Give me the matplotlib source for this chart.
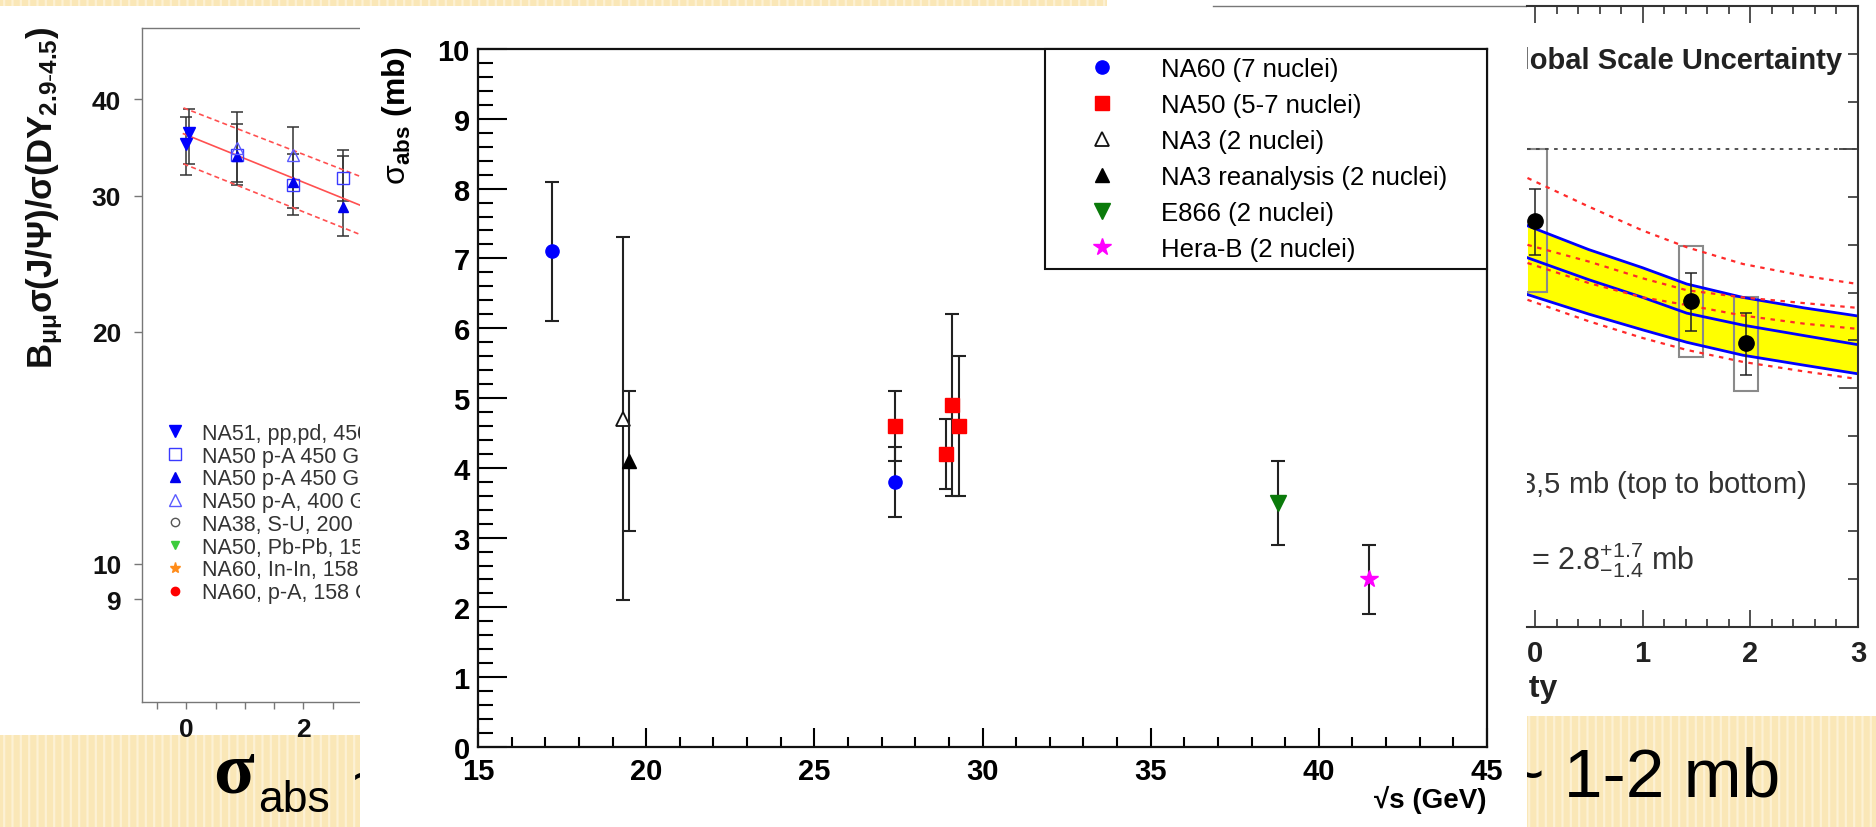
import matplotlib

matplotlib.use("Agg")
import matplotlib.pyplot as plt
from matplotlib.patches import Rectangle
from matplotlib.lines import Line2D
from matplotlib.ticker import MultipleLocator, NullLocator

plt.rcParams["font.family"] = ["Liberation Sans", "DejaVu Sans"]
plt.rcParams["mathtext.fontset"] = "custom"
plt.rcParams["mathtext.rm"] = "Liberation Sans"
plt.rcParams["mathtext.bf"] = "Liberation Sans:bold"
plt.rcParams["mathtext.it"] = "Liberation Sans:italic"
plt.rcParams["hatch.linewidth"] = 1.6

# ---- main panel: sigma_abs vs sqrt(s) ----
na60_x, na60_y, na60_err = [17.2, 27.4], [7.1, 3.8], [1.0, 0.5]
na50_x, na50_y, na50_err = [27.4, 28.9, 29.1, 29.3], [4.6, 4.2, 4.9, 4.6], [0.5, 0.5, 1.3, 1.0]
na3_x, na3_y, na3_err = [19.3], [4.7], [2.6]
na3r_x, na3r_y, na3r_err = [19.5], [4.1], [1.0]
e866_x, e866_y, e866_err = [38.8], [3.5], [0.6]
herab_x, herab_y, herab_err = [41.5], [2.4], [0.5]
main_labels = ["NA60 (7 nuclei)", "NA50 (5-7 nuclei)", "NA3 (2 nuclei)",
               "NA3 reanalysis (2 nuclei)", "E866 (2 nuclei)", "Hera-B (2 nuclei)"]
main_xticks = [15, 20, 25, 30, 35, 40, 45]
main_yticks = list(range(0, 11))

# ---- left panel: B sigma(J/psi)/sigma(DY) ----
l_na51_x, l_na51_y = [0.0, 0.05], [35.0, 36.2]
l_na51_lo, l_na51_hi = [31.9, 33.0], [38.0, 38.9]
l_sq_x, l_sq_y = [0.86, 1.83, 2.68], [33.9, 31.0, 31.6]
l_sq_lo, l_sq_hi = [31.0, 28.3, 29.5], [38.5, 34.0, 33.8]
l_tri_x, l_tri_y = [0.86, 1.83, 2.68], [33.8, 31.3, 29.0]
l_tri_lo, l_tri_hi = [31.3, 28.9, 26.6], [37.2, 36.8, 34.4]
l_otri_x, l_otri_y = [0.86, 1.83], [34.6, 33.9]
fit_x = [-0.05, 3.2]
fit_c, fit_hi, fit_lo = [36.1, 28.7], [39.0, 31.3], [33.0, 26.3]
left_labels = ["NA51, pp,pd, 450 GeV", "NA50 p-A 450 GeV (LI)", "NA50 p-A 450 GeV (HI)",
               "NA50 p-A, 400 GeV", "NA38, S-U, 200 GeV", "NA50, Pb-Pb, 158 GeV",
               "NA60, In-In, 158 GeV", "NA60, p-A, 158 GeV"]
left_yticks = [9, 10, 20, 30, 40]
left_xticks = [0, 2]

# ---- right panel: ratio vs rapidity ----
rap_x = [-0.07, 0.5, 1.0, 1.41, 1.93, 2.5, 3.0]
blue_hi = [0.84, 0.79, 0.752, 0.718, 0.69, 0.668, 0.651]
blue_mid = [0.773, 0.727, 0.69, 0.657, 0.632, 0.61, 0.591]
blue_lo = [0.696, 0.655, 0.622, 0.596, 0.569, 0.548, 0.53]
red_1 = [0.94, 0.88, 0.83, 0.795, 0.76, 0.735, 0.718]
red_2 = [0.80, 0.765, 0.73, 0.705, 0.69, 0.678, 0.668]
red_3 = [0.762, 0.72, 0.69, 0.674, 0.652, 0.635, 0.624]
red_4 = [0.685, 0.64, 0.605, 0.58, 0.555, 0.535, 0.519]
pt_x, pt_y = [0.0, 1.45, 1.96], [0.85, 0.682, 0.594]
pt_lo, pt_hi = [0.779, 0.62, 0.528], [0.917, 0.742, 0.657]
sys_lo, sys_hi = [0.701, 0.565, 0.494], [1.0, 0.797, 0.69]
rap_xticks = [0, 1, 2, 3]

BEIGE, STRIPE = "#fae7b7", "#fdf1d4"
W, H = 1876, 828
fig = plt.figure(figsize=(W / 100, H / 100), dpi=100)


def box(l, t, r, b):
    return [l / W, 1 - b / H, (r - l) / W, (b - t) / H]


def frect(l, t, r, b, z):
    fig.add_artist(Rectangle((l / W, 1 - b / H), (r - l) / W, (b - t) / H,
                             transform=fig.transFigure, facecolor="white",
                             edgecolor="none", zorder=z))


# slide background + title fragments
bg = fig.add_axes([0, 0, 1, 1], zorder=0)
bg.set_xlim(0, W)
bg.set_ylim(H, 0)
bg.axis("off")
bg.add_patch(Rectangle((0, 0), W, H, facecolor=BEIGE, edgecolor=STRIPE, hatch="||", lw=0))
bg.add_patch(Rectangle((0, 7), 360, 729, facecolor="white", lw=0))
bg.add_patch(Rectangle((1107, 0), 420, 7, facecolor="white", lw=0))
bg.text(213, 793, "σ", family="Liberation Serif", fontweight="bold", fontsize=54, va="baseline")
bg.text(258, 812, "abs", fontsize=32, va="baseline")
bg.text(352, 800, "~ 4.5 mb", fontsize=50, va="baseline")
bg.text(1504, 797, "~ 1-2 mb", fontsize=50, va="baseline")

# ---------------- left panel ----------------
axL = fig.add_axes(box(142, 29, 391, 703), zorder=1)
axL.set_yscale("log")
axL.set_xlim(-0.76, 3.5)
axL.set_ylim(6.62, 49.5)
for s in axL.spines.values():
    s.set_color("#777777")
    s.set_linewidth(1.0)
ekw = dict(fmt="none", ecolor="#333333", elinewidth=1.1, capsize=4, capthick=1.1)
axL.errorbar(l_na51_x, l_na51_y, yerr=[[y - l for y, l in zip(l_na51_y, l_na51_lo)],
                                       [h - y for y, h in zip(l_na51_y, l_na51_hi)]], **ekw)
axL.errorbar(l_sq_x, l_sq_y, yerr=[[y - l for y, l in zip(l_sq_y, l_sq_lo)],
                                   [h - y for y, h in zip(l_sq_y, l_sq_hi)]], **ekw)
axL.errorbar(l_tri_x, l_tri_y, yerr=[[y - l for y, l in zip(l_tri_y, l_tri_lo)],
                                     [h - y for y, h in zip(l_tri_y, l_tri_hi)]], **ekw)
axL.plot(fit_x, fit_c, color="#ff5050", lw=1.2)
axL.plot(fit_x, fit_hi, color="#ff5050", lw=1.2, ls=(0, (3, 2)))
axL.plot(fit_x, fit_lo, color="#ff5050", lw=1.2, ls=(0, (3, 2)))
h1, = axL.plot(l_na51_x, l_na51_y, "v", color="#0000ff", ms=8, ls="none")
h2, = axL.plot(l_sq_x, l_sq_y, "s", mfc="none", mec="#3a3aff", ms=8, ls="none")
h3, = axL.plot(l_tri_x, l_tri_y, "^", color="#0000ee", ms=7, ls="none")
h4, = axL.plot(l_otri_x, l_otri_y, "^", mfc="none", mec="#5a5aff", ms=9, ls="none")
h5 = Line2D([], [], marker="o", mfc="none", mec="#555555", ms=6, ls="none")
h6 = Line2D([], [], marker="v", color="#3ccc3c", ms=6, ls="none")
h7 = Line2D([], [], marker="*", color="#ff8c1a", ms=8, ls="none")
h8 = Line2D([], [], marker="o", color="#ff0000", ms=6, ls="none")
legL = axL.legend([h1, h2, h3, h4, h5, h6, h7, h8], left_labels, loc="upper left",
                  bbox_to_anchor=((165 - 142) / 249, (703 - 424) / 674), frameon=False,
                  fontsize=15.5, borderpad=0, borderaxespad=0, labelspacing=0.08,
                  handlelength=0.9, handletextpad=0.8, labelcolor="#333333")
axL.set_yticks(left_yticks, labels=[str(v) for v in left_yticks], fontsize=19, fontweight="bold")
axL.yaxis.set_minor_locator(NullLocator())
axL.set_xticks(left_xticks, labels=[str(v) for v in left_xticks], fontsize=19, fontweight="bold")
axL.xaxis.set_minor_locator(MultipleLocator(0.5))
axL.tick_params(axis="y", direction="out", length=6, width=1, color="#777777", pad=9, labelcolor="#111111")
axL.tick_params(axis="x", which="both", direction="out", length=5, width=1, color="#777777", pad=6, labelcolor="#111111")
axL.text(-0.39, 1.004, r"B$_{\mathbf{\mu\mu}}$σ(J/Ψ)/σ(DY$_{\mathbf{2.9\text{-}4.5}}$)",
         transform=axL.transAxes, rotation=90, ha="center", va="top",
         fontsize=25, fontweight="bold", color="#111111")

# ---------------- main panel ----------------
frect(360, 7, 1527, 828, 2)
fig.add_artist(Line2D([1213 / W, 1527 / W], [1 - 7 / H, 1 - 7 / H], transform=fig.transFigure,
                      color="#777777", lw=1.0, zorder=2.5))
axM = fig.add_axes(box(478, 50, 1487, 748), zorder=3)
axM.set_facecolor("none")
axM.set_xlim(15, 45)
axM.set_ylim(0, 10)
for s in axM.spines.values():
    s.set_linewidth(1.6)
    s.set_color("#111111")
mek = dict(fmt="none", ecolor="#222222", elinewidth=1.5, capsize=5, capthick=1.5)
series = [
    (na60_x, na60_y, na60_err, dict(marker="o", color="#0000ff", ms=9.5)),
    (na50_x, na50_y, na50_err, dict(marker="s", color="#ff0000", ms=10)),
    (na3_x, na3_y, na3_err, dict(marker="^", mfc="white", mec="#111111", mew=1.3, ms=10)),
    (na3r_x, na3r_y, na3r_err, dict(marker="^", color="#000000", ms=10)),
    (e866_x, e866_y, e866_err, dict(marker="v", color="#0a7a0a", ms=11)),
    (herab_x, herab_y, herab_err, dict(marker="*", color="#ff00ff", ms=13)),
]
handles = []
for (x, y, e, st), lab in zip(series, main_labels):
    axM.errorbar(x, y, yerr=e, **mek)
    h, = axM.plot(x, y, ls="none", label=lab, **st)
    handles.append(h)
leg = axM.legend(handles=handles, loc="upper left", bbox_to_anchor=(0.562, 0.0, 0.438, 1.0),
                 mode="expand", borderaxespad=0, fontsize=18.5, borderpad=0.3,
                 labelspacing=0.47, handlelength=3.8, handletextpad=0.4, handleheight=0.7,
                 fancybox=False, framealpha=1, edgecolor="#111111")
leg.get_frame().set_linewidth(1.5)
axM.set_xticks(main_xticks, labels=[str(v) for v in main_xticks], fontsize=21, fontweight="bold")
axM.set_yticks(main_yticks, labels=[str(v) for v in main_yticks], fontsize=21, fontweight="bold")
axM.xaxis.set_minor_locator(MultipleLocator(1))
axM.yaxis.set_minor_locator(MultipleLocator(0.2))
axM.tick_params(axis="y", which="major", direction="in", length=21, width=1.5, pad=6)
axM.tick_params(axis="y", which="minor", direction="in", length=11, width=1.5)
axM.tick_params(axis="x", which="major", direction="in", length=14, width=1.5, pad=7)
axM.tick_params(axis="x", which="minor", direction="in", length=7, width=1.5)
axM.text(-0.080, 1.004, r"$\mathrm{\sigma}_{\mathbf{abs}}$ (mb)", transform=axM.transAxes, rotation=90,
         ha="center", va="top", fontsize=23, fontweight="bold")
axM.text(1.0, -0.0745, "√s (GeV)", transform=axM.transAxes, ha="right", va="center",
         fontsize=20, fontweight="bold")

# ---------------- right panel ----------------
rp = fig.add_axes(box(1527, 0, 1876, 717), zorder=4)
rp.set_xlim(1527, 1876)
rp.set_ylim(717, 0)
rp.set_xticks([])
rp.set_yticks([])
for s in rp.spines.values():
    s.set_visible(False)
rp.text(1842, 61, "Global Scale Uncertainty", ha="right", va="center", fontsize=21,
        fontweight="bold", color="#222222", clip_on=True)
rp.text(1806, 485, r"$\sigma_{abs}$ = 0, 1.5, 3,5 mb (top to bottom)", ha="right", va="center",
        fontsize=21, color="#333333", clip_on=True)
rp.text(1529, 560, r"$\sigma_{abs}$ ", ha="right", va="center", fontsize=22, color="#333333", clip_on=True)
rp.text(1531, 560, r"= 2.8$^{+1.7}_{-1.4}$ mb", ha="left", va="center", fontsize=22,
        color="#333333", clip_on=True)
rp.text(1558, 689, "rapidity", ha="right", va="center", fontsize=23, fontweight="bold",
        color="#222222", clip_on=True)

axR = fig.add_axes(box(1527, 7, 1858, 628), zorder=5)
axR.set_facecolor("none")
axR.set_xlim(-0.0743, 3.0)
axR.set_ylim(0, 1.3)
axR.spines["left"].set_visible(False)
for k in ("top", "right", "bottom"):
    axR.spines[k].set_color("#333333")
    axR.spines[k].set_linewidth(1.5)
axR.fill_between(rap_x, blue_lo, blue_hi, color="#ffff00", lw=0)
for yy in (blue_hi, blue_mid, blue_lo):
    axR.plot(rap_x, yy, color="#0000ff", lw=2)
axR.plot([rap_x[-1], rap_x[-1]], [blue_lo[-1], blue_hi[-1]], color="#0000ff", lw=2)
for yy in (red_1, red_2, red_3, red_4):
    axR.plot(rap_x, yy, color="#ff2a2a", lw=1.6, ls=(0, (2, 2.5)))
axR.axhline(1.0, color="#444444", lw=1.3, ls=(0, (2, 3)))
for x, lo, hi in zip(pt_x, sys_lo, sys_hi):
    axR.add_patch(Rectangle((x - 0.115, lo), 0.23, hi - lo, facecolor="none",
                            edgecolor="#8a8a8a", lw=1.5))
axR.errorbar(pt_x, pt_y, yerr=[[y - l for y, l in zip(pt_y, pt_lo)],
                               [h - y for y, h in zip(pt_y, pt_hi)]],
             fmt="o", color="#000000", ms=11, ecolor="#222222", elinewidth=1.1,
             capsize=4, capthick=1.1)
axR.set_xticks(rap_xticks, labels=[str(v) for v in rap_xticks], fontsize=21, fontweight="bold")
axR.xaxis.set_minor_locator(MultipleLocator(0.2))
axR.yaxis.set_major_locator(MultipleLocator(0.5))
axR.yaxis.set_minor_locator(MultipleLocator(0.1))
axR.tick_params(axis="x", which="major", direction="in", length=12, width=1.2, top=True,
                pad=9, colors="#333333", labelcolor="#222222")
axR.tick_params(axis="x", which="minor", direction="in", length=6, width=1.2, top=True, colors="#333333")
axR.tick_params(axis="y", which="both", direction="in", left=False, labelleft=False,
                right=True, width=1.2, colors="#333333")
axR.tick_params(axis="y", which="major", length=14)
axR.tick_params(axis="y", which="minor", length=7)

fig.savefig("out.png", dpi=100)
